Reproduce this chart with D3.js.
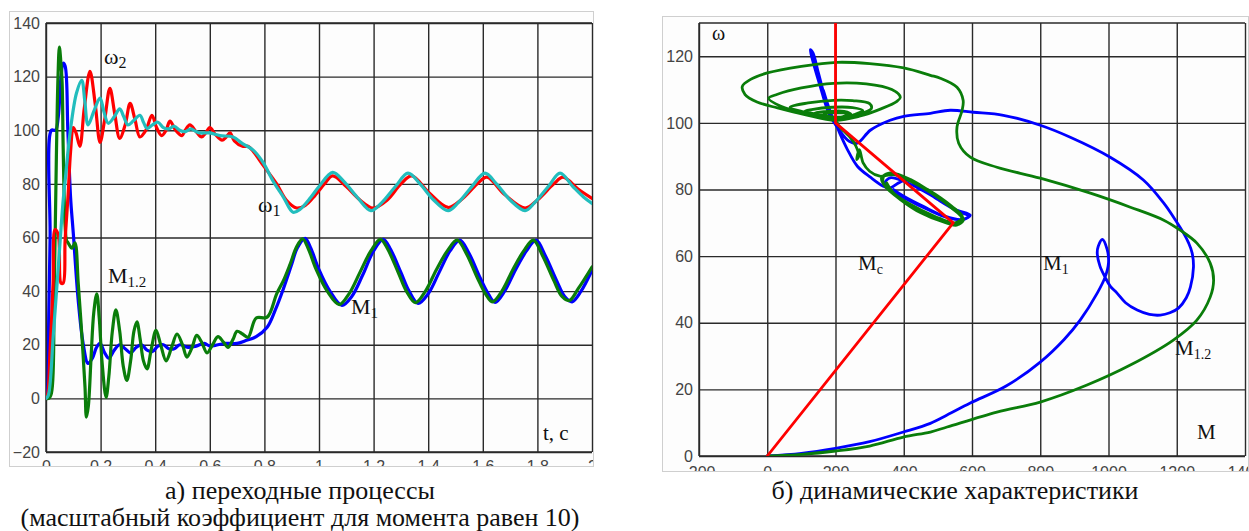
<!DOCTYPE html>
<html><head><meta charset="utf-8">
<script src="https://cdn.jsdelivr.net/npm/d3@7"></script>
<style>
body{margin:0;background:#fff}
.tick text{font-family:"Liberation Sans",Arial,sans-serif;font-size:16px;fill:#444}
.lbl{font-family:"Liberation Serif","Times New Roman",serif;fill:#111}
.cap{font-family:"Liberation Serif","Times New Roman",serif;font-size:26px;fill:#111}
</style></head>
<body><svg id="c" width="1249" height="531"></svg>
<script>
// ---------- Left chart data (t, value) ----------
const tTicks=[0,0.2,0.4,0.6,0.8,1,1.2,1.4,1.6,1.8,2];
const vTicks=[-20,0,20,40,60,80,100,120,140];
const omega2=[[0,0],[0.005,1],[0.015,18],[0.026,43],[0.033,63],[0.045,61],[0.055,43],[0.063,43],[0.07,59],[0.081,76],[0.09,92],[0.1,101],[0.11,99],[0.124,94],[0.14,108],[0.161,122],[0.18,110],[0.198,95.5],[0.215,104],[0.234,115.6],[0.252,106],[0.27,97],[0.29,102],[0.308,110],[0.326,104],[0.344,97.5],[0.366,100],[0.388,105.6],[0.405,101],[0.424,98],[0.44,100],[0.454,103.4],[0.475,100],[0.498,98],[0.51,100],[0.527,102],[0.55,99.5],[0.57,97.5],[0.585,99],[0.6,101],[0.62,98.5],[0.645,96.3],[0.66,97.5],[0.674,99],[0.69,96],[0.72,94],[0.74,94],[0.76,92],[0.795,87],[0.845,80],[0.88,74],[0.918,71],[0.95,72],[0.98,75],[1.02,80],[1.05,83],[1.1,79],[1.15,74],[1.198,71],[1.25,74],[1.3,80],[1.34,83],[1.4,77],[1.473,71.2],[1.52,74],[1.58,80],[1.615,82.5],[1.68,76],[1.755,71],[1.8,74],[1.86,80],[1.894,82.5],[1.95,78],[2,74.6]];
const omega1=[[0,0],[0.008,1],[0.027,24],[0.045,49],[0.063,74],[0.07,81],[0.088,99],[0.112,114],[0.131,118.6],[0.142,111],[0.154,102],[0.175,107],[0.198,112],[0.212,107],[0.228,102.6],[0.25,105],[0.27,108],[0.285,105],[0.3,102],[0.32,103.5],[0.344,105.6],[0.357,103],[0.37,100.7],[0.39,102],[0.41,103],[0.43,101],[0.45,100.5],[0.47,101.5],[0.49,100],[0.51,99.5],[0.53,100.5],[0.55,99.5],[0.564,99],[0.6,99],[0.637,98],[0.685,97.5],[0.72,95],[0.76,92.5],[0.795,88],[0.832,81],[0.87,75],[0.905,69.4],[0.93,70.5],[0.97,75],[1,79],[1.05,84.3],[1.09,81],[1.14,75],[1.19,70],[1.23,73],[1.28,79],[1.326,84],[1.37,80],[1.42,74],[1.473,70],[1.51,73],[1.56,79],[1.608,84],[1.65,80],[1.7,74],[1.755,70],[1.79,73],[1.84,79],[1.883,84],[1.93,79],[1.97,75],[2,72.7]];
const m1=[[0,0],[0.005,2],[0.01,30],[0.015,60],[0.02,100],[0.035,100],[0.045,105],[0.055,120],[0.063,125],[0.07,124],[0.08,100],[0.09,75],[0.1,61.5],[0.118,36.6],[0.136,20.5],[0.154,13],[0.17,15],[0.185,19],[0.198,20.5],[0.215,17],[0.23,15],[0.25,18],[0.27,20],[0.29,18.5],[0.31,17],[0.33,19],[0.35,20],[0.37,18],[0.39,17.5],[0.41,19.5],[0.43,20],[0.45,18.5],[0.47,18.5],[0.49,20],[0.52,19],[0.55,19.5],[0.58,20.5],[0.6,19.5],[0.63,20],[0.66,20.5],[0.7,20.5],[0.73,21.5],[0.77,23],[0.81,26.5],[0.84,33],[0.87,41],[0.9,50],[0.92,56],[0.949,59.7],[0.97,56],[1,48],[1.04,40],[1.084,34.7],[1.12,38],[1.16,46],[1.2,55],[1.235,59.3],[1.26,56],[1.3,47],[1.33,40],[1.363,35.4],[1.4,39],[1.44,47],[1.48,55],[1.516,59],[1.55,54],[1.59,45],[1.62,39],[1.645,35.8],[1.68,40],[1.72,48],[1.76,55],[1.795,59],[1.83,53],[1.87,44],[1.9,38],[1.927,36],[1.96,40],[2,47.8]];
const m12=[[0,0],[0.01,0],[0.02,2],[0.03,40],[0.038,90],[0.044,120],[0.049,131],[0.054,126],[0.059,118],[0.063,93],[0.07,64.5],[0.075,59],[0.081,58],[0.095,56],[0.106,58],[0.118,43],[0.131,24],[0.143,4],[0.148,-7],[0.155,-3],[0.165,15],[0.175,32],[0.186,39],[0.195,30],[0.205,14],[0.22,0.4],[0.23,8],[0.243,25],[0.256,33],[0.27,25],[0.283,12],[0.296,6.7],[0.31,14],[0.322,25],[0.333,28.5],[0.345,22],[0.357,14],[0.37,11],[0.385,18],[0.403,25.4],[0.42,20],[0.44,14],[0.46,19],[0.48,24],[0.5,20],[0.516,15.4],[0.535,19],[0.552,23.5],[0.57,21],[0.59,17],[0.61,20],[0.63,23],[0.65,21],[0.667,19],[0.685,22],[0.7,25],[0.72,24],[0.74,22.8],[0.77,30],[0.81,30.3],[0.845,39],[0.87,44],[0.894,50],[0.918,56.5],[0.94,59.5],[0.96,56],[0.99,48],[1.03,40],[1.074,35],[1.11,39],[1.15,47],[1.19,55],[1.225,59.3],[1.25,56],[1.29,47],[1.32,40],[1.353,35.7],[1.39,40],[1.43,48],[1.47,55],[1.506,59],[1.54,54],[1.58,45],[1.61,39],[1.635,36],[1.67,40],[1.71,48],[1.75,55],[1.785,59],[1.82,53],[1.86,44],[1.89,38],[1.917,36.5],[1.95,41],[2,49]];

// ---------- Right chart data (M, omega) ----------
const mTicks=[-200,0,200,400,600,800,1000,1200,1400];
const wTicks=[0,20,40,60,80,100,120];
const mc=[[0,0],[545,70],[200,100],[200,130]];
const dynM1=[[0,0],[100,0.8],[200,2.3],[300,4.3],[399,7.2],[478,9.8],[527,12.3],[595,15.9],[700,21],[800,28.2],[870,35],[917,40.8],[967,48.9],[990,53.7],[1000,58],[996,62],[982,65],[970,63],[967,60.9],[975,57],[990,53.7],[1005,51],[1025,48.9],[1050,46],[1084,43.8],[1120,42.5],[1152,42.3],[1180,43],[1205,44.4],[1228,47.5],[1240,50.7],[1249,56.7],[1245,61],[1235,63.9],[1220,66.9],[1195,71],[1162,75.9],[1103,82.8],[1005,89.7],[888,95.7],[800,99.3],[692,102.3],[604,103.2],[536,103.8],[478,102.9],[400,102],[360,100.8],[302,97.8],[264,93.9],[240,94.5],[210,98],[180,103],[155,111],[135,118],[126,122],[134,121],[150,115],[168,108],[180,104],[170,107],[152,113],[146,116],[156,112],[170,107.5],[182,104],[174,106.5],[164,110],[176,106],[190,102],[200,100],[212,97],[235,92],[264,87],[302,83.7],[340,81],[360,80.5],[385,82],[410,83],[450,80.5],[500,77],[550,74],[595,72.3],[575,71],[530,71.5],[470,74],[410,77],[360,80],[345,82],[360,83.5],[400,82.5],[450,80],[510,76.5],[560,73.5],[590,72],[570,71],[520,72],[460,74.8],[400,78],[370,80]];
const dynM12=[[0,0],[100,0.5],[200,1.5],[300,3],[399,5.7],[478,7.2],[527,8.7],[673,13.2],[800,16.2],[937,21.3],[1064,27.3],[1190,34.8],[1259,40.8],[1298,47.7],[1308,52.8],[1298,57.9],[1259,63.9],[1210,67.8],[1162,70.8],[1064,74.7],[947,78.9],[800,83.4],[673,86.7],[595,89.7],[561,93.9],[556,98.7],[571,103.8],[574,106.8],[556,110.7],[507,113.4],[478,114.3],[400,116.5],[300,117.8],[205,118.2],[100,117],[0,115],[-50,113],[-73,111],[-65,108.5],[-30,106.3],[30,104.5],[110,102.5],[200,100.8],[270,102],[335,104.3],[380,106.5],[390,107.7],[365,110],[290,111.7],[194,111.9],[100,110.5],[30,108.6],[4,107.4],[40,105],[120,102.6],[200,101],[265,102.5],[305,104.3],[300,105.8],[250,106.7],[194,106.8],[120,106],[67,104.7],[110,103.2],[200,101.2],[255,102.5],[280,103.7],[250,104.6],[190,104.7],[130,104],[110,103.5],[150,102.5],[205,101.4],[245,102.6],[225,103.5],[170,103.4],[140,103],[180,102],[220,101.8],[235,102.7],[200,103],[165,102.6],[200,101],[210,99],[225,97.5],[243,95.7],[260,93],[268,90],[262,89],[270,92],[281,88],[300,85.5],[330,84],[370,84.5],[420,82.5],[480,79],[540,74.5],[570,71.5],[560,69.5],[510,70.5],[450,73],[390,77],[345,81],[335,83.5],[360,85],[420,83],[490,78.5],[550,74],[575,71],[555,69.3],[500,71],[440,74],[380,78],[340,82],[345,84.5],[400,83.8],[470,80],[540,75],[572,71.8],[550,70],[490,72],[420,75.5],[370,79],[350,82]];

const svg=d3.select("#c");
const defs=svg.append("defs");

function panel(o){
  const g=svg.append("g");
  defs.append("clipPath").attr("id",o.id+"clip").append("rect")
    .attr("x",o.frame[0]).attr("y",o.frame[1]).attr("width",o.frame[2]-o.frame[0]).attr("height",o.frame[3]-o.frame[1]);
  const cg=g.append("g").attr("clip-path",`url(#${o.id}clip)`);
  cg.append("rect").attr("x",o.frame[0]).attr("y",o.frame[1]).attr("width",o.frame[2]-o.frame[0]).attr("height",o.frame[3]-o.frame[1]).attr("fill","#fdfdfd");
  const x=o.x, y=o.y;
  const [x0,x1]=x.range(), [y0,y1]=y.range();
  const ax=cg.append("g").attr("transform",`translate(0,${y0})`)
    .call(d3.axisBottom(x).tickValues(o.xt).tickSize(-(y0-y1)).tickPadding(o.xpad).tickFormat(o.xf));
  const ay=cg.append("g").attr("transform",`translate(${x0},0)`)
    .call(d3.axisLeft(y).tickValues(o.yt).tickSize(-(x1-x0)).tickPadding(6).tickFormat(d3.format("d")));
  [ax,ay].forEach(a=>{a.select(".domain").remove();a.selectAll("line").attr("stroke","#2a2a2a").attr("stroke-width",1.4);});
  cg.append("line").attr("x1",x0).attr("x2",x1).attr("y1",y1).attr("y2",y1).attr("stroke","#2a2a2a").attr("stroke-width",1.4);
  cg.append("line").attr("x1",x0).attr("x2",x0).attr("y1",y1).attr("y2",y0).attr("stroke","#2a2a2a").attr("stroke-width",1.4);
  cg.append("line").attr("x1",x0).attr("x2",x1).attr("y1",y0).attr("y2",y0).attr("stroke","#2a2a2a").attr("stroke-width",1.4);
  const pg=cg.append("g");
  defs.append("clipPath").attr("id",o.id+"pclip").append("rect")
    .attr("x",x0).attr("y",y1).attr("width",x1-x0).attr("height",y0-y1);
  pg.attr("clip-path",`url(#${o.id}pclip)`);
  o.series.forEach(s=>{
    const line=d3.line().x(d=>x(d[0])).y(d=>y(d[1])).curve(s.linear?d3.curveLinear:d3.curveCatmullRom.alpha(0.5));
    pg.append("path").datum(s.data).attr("d",line).attr("fill","none")
      .attr("stroke",s.color).attr("stroke-width",s.w).attr("stroke-linejoin","round").attr("stroke-linecap","round");
  });
  g.append("rect").attr("x",o.frame[0]+0.5).attr("y",o.frame[1]+0.5).attr("width",o.frame[2]-o.frame[0]-1).attr("height",o.frame[3]-o.frame[1]-1)
    .attr("fill","none").attr("stroke","#cfcfcf").attr("stroke-width",1);
  return cg;
}

const xL=d3.scaleLinear([0,2],[46,592]);
const yL=d3.scaleLinear([-20,140],[452,23]);
const left=panel({id:"L",frame:[9,11,594,467],x:xL,y:yL,xt:tTicks,yt:vTicks,xf:d=>String(d),xpad:9,
  series:[{data:m1,color:"#0000ff",w:3.2},{data:m12,color:"#0a7d0a",w:3.2},{data:omega2,color:"#ff0000",w:3.2},{data:omega1,color:"#22bdbd",w:3.2}]});

const xR=d3.scaleLinear([-200,1400],[699,1245]);
const yR=d3.scaleLinear([0,130],[456,23]);
const right=panel({id:"R",frame:[662,16,1249,472],x:xR,y:yR,xt:mTicks,yt:wTicks,xf:d=>String(d),xpad:11,
  series:[{data:dynM1,color:"#0000ff",w:2.8},{data:dynM12,color:"#0a7d0a",w:2.8},{data:mc,color:"#ff0000",w:2.8,linear:true}]});

function label(g,x,y,main,sub,fs,ss){
  const t=g.append("text").attr("class","lbl").attr("x",x).attr("y",y).style("font-size",fs+"px").text(main);
  if(sub) t.append("tspan").attr("dy",4).style("font-size",ss+"px").text(sub);
}
label(left,104,64,"ω","2",22,16);
label(left,258,212,"ω","1",22,16);
label(left,108,283,"M","1.2",22,15);
label(left,351,314,"M","1",22,15);
label(left,543,440,"t, c",null,21);
label(right,712,40,"ω",null,20);
label(right,858,270,"M","c",21,14);
label(right,1043,270,"M","1",21,14);
label(right,1175,355,"M","1.2",21,14);
label(right,1197,439,"M",null,21);

svg.append("text").attr("class","cap").attr("x",300).attr("y",499).attr("text-anchor","middle").text("а) переходные процессы");
svg.append("text").attr("class","cap").attr("x",300).attr("y",526).attr("text-anchor","middle").text("(масштабный коэффициент для момента равен 10)");
svg.append("text").attr("class","cap").attr("x",955).attr("y",499).attr("text-anchor","middle").text("б) динамические характеристики");
</script></body></html>
